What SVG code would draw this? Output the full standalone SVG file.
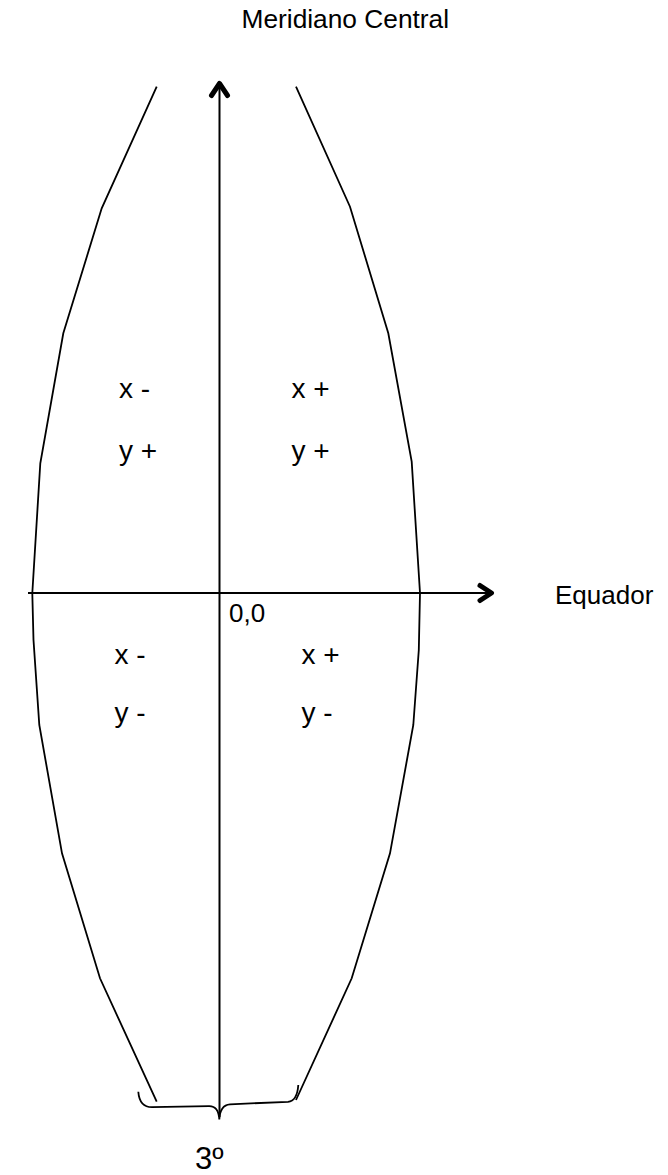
<svg xmlns="http://www.w3.org/2000/svg" width="668" height="1175" viewBox="0 0 668 1175">
<style>
.t{font-family:"Liberation Sans",Arial,sans-serif;fill:#000}
.c{fill:none;stroke:#000;stroke-width:1.8;stroke-linejoin:miter}
.ax{fill:none;stroke:#000;stroke-width:2}
.ah{fill:none;stroke:#000;stroke-width:5;stroke-linecap:round;stroke-linejoin:round}
</style>
<rect width="668" height="1175" fill="#fff"/>
<g id="fuso">
<polyline class="c" points="156.7,86.7 101.7,208.3 63.3,333.3 40.3,463.3 32.3,593.3 33.5,640 39.3,725 62,853.3 100,978.3 156.7,1101.7"/>
<polyline class="c" points="296,86.7 350,206.7 388.3,333.3 411.7,461.7 420,593 418.8,650 413.3,725 390,853.3 351.7,978.3 296,1100"/>
</g>
<g id="connectors">
<line class="ax" x1="219.5" y1="86" x2="219.5" y2="1117"/>
<polyline class="ah" points="211.5,95.5 219.5,83.5 227.5,95.5"/>
<line class="ax" x1="28" y1="593" x2="489" y2="593"/>
<polyline class="ah" points="480,585.5 491.5,593 480,600.5"/>
</g>
<g id="brace">
<path class="c" d="M138.3,1091.7 Q139.5,1107.2 152,1107.2 L209,1106.2 Q218.5,1106 219.3,1119.5 Q220,1105 230,1104.3 L288,1101.8 Q297.2,1101 298.3,1085"/>
</g>
<g id="labels">
<text class="t" x="241.5" y="28.3" font-size="26.3">Meridiano Central</text>
<text class="t" x="555" y="603.5" font-size="26">Equador</text>
<text class="t" x="229" y="622" font-size="26">0,0</text>
<text class="t" x="119" y="398" font-size="28">x -</text>
<text class="t" x="119" y="460" font-size="28">y +</text>
<text class="t" x="291.5" y="398" font-size="28">x +</text>
<text class="t" x="291.5" y="460" font-size="28">y +</text>
<text class="t" x="114.5" y="663.5" font-size="28">x -</text>
<text class="t" x="114.5" y="721.5" font-size="28">y -</text>
<text class="t" x="301.5" y="664" font-size="28">x +</text>
<text class="t" x="301.5" y="721.5" font-size="28">y -</text>
<text class="t" x="195" y="1168.5" font-size="31">3º</text>
</g>
</svg>
